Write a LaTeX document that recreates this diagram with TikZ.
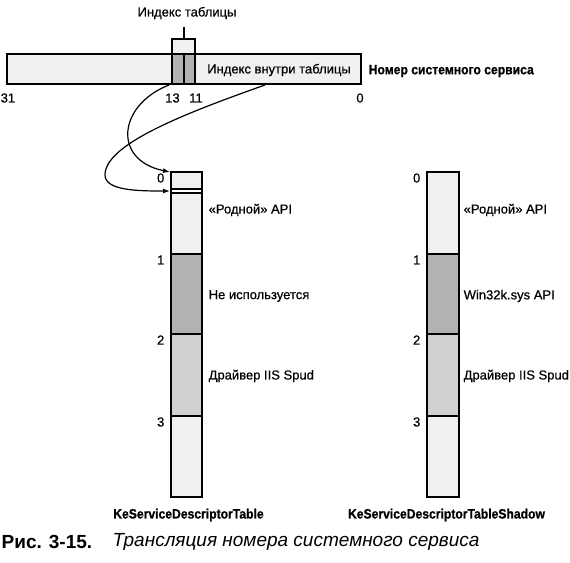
\documentclass[tikz,border=0pt]{standalone}
\usepackage{fontspec}
\setmainfont{Liberation Sans}
\newfontfamily\lblfont{Liberation Sans}[FakeBold=0.6]
\newfontfamily\titlefont{Liberation Sans}[FakeStretch=0.9,FakeBold=0.8]
\usetikzlibrary{calc,arrows.meta}

\tikzset{
  lbl/.style={font=\lblfont\fontsize{13}{15}\selectfont,inner sep=0pt},
  ttl/.style={font=\titlefont\fontsize{13.5}{15}\selectfont\bfseries,inner sep=0pt},
  pale/.style={fill=gray!12},
  mid/.style={fill=gray!36},
  dark/.style={fill=gray!60},
}

\begin{document}
\begin{tikzpicture}[>=Latex,x=1pt,y=-1pt,line width=1.4pt]
  \useasboundingbox (0,0) rectangle (570,562);
  % service number: bits 31..0
  \filldraw[pale] (7,54) rectangle (361,84);
  \filldraw[pale] (172,39) rectangle (195,54);
  \filldraw[dark] (172,54) rectangle (184,84);
  \filldraw[dark] (184,54) rectangle (195,84);
  \coordinate (tbltop) at (184,39);
  \node[lbl] (tblidx) at (187,13) {Индекс таблицы};
  \draw (tbltop) -- ++(0,-12);
  \node[lbl] (inidx) at (279,70) {Индекс внутри таблицы};
  \node[ttl,anchor=west] (svcnum) at (368,71) {Номер системного сервиса};
  \node[lbl,anchor=west] (b31) at (0,98) {31};
  \node[lbl] (b13) at (172.5,98) {13};
  \node[lbl] (b11) at (196,98) {11};
  \node[lbl] (b0) at (360,98) {0};
  \coordinate (from13) at (169,85);
  \coordinate (fromin) at (265,85);
  % KeServiceDescriptorTable
  \filldraw[pale] (171,172) rectangle (202,254);
  \filldraw[dark] (171,254) rectangle (202,334);
  \filldraw[mid]  (171,334) rectangle (202,416);
  \filldraw[pale] (171,416) rectangle (202,497);
  \filldraw[fill=white] (171,189) rectangle (202,193);
  \coordinate (kst0) at (170,172);
  \coordinate (kstent) at (170,191);
  \foreach \n/\y in {0/178,1/260,2/340,3/422}
    \node[lbl,anchor=east] (kstn\n) at (165,\y) {\n};
  \node[lbl,anchor=west] (kstnat) at (208,210) {«Родной» API};
  \node[lbl,anchor=west] (kstfree) at (208,296) {Не используется};
  \node[lbl,anchor=west] (kstiis) at (208,376) {Драйвер IIS Spud};
  \node[ttl] (kstname) at (188.5,515) {KeServiceDescriptorTable};
  % KeServiceDescriptorTableShadow
  \filldraw[pale] (427,172) rectangle (459,254);
  \filldraw[dark] (427,254) rectangle (459,334);
  \filldraw[mid]  (427,334) rectangle (459,416);
  \filldraw[pale] (427,416) rectangle (459,497);
  \foreach \n/\y in {0/178,1/260,2/340,3/422}
    \node[lbl,anchor=east] (shdn\n) at (421,\y) {\n};
  \node[lbl,anchor=west] (shdnat) at (463,210) {«Родной» API};
  \node[lbl,anchor=west] (shdwin) at (463,296) {Win32k.sys API};
  \node[lbl,anchor=west] (shdiis) at (463,376) {Драйвер IIS Spud};
  \node[ttl] (shdname) at (446.5,515) {KeServiceDescriptorTableShadow};
  % index arrows
  \draw[-{Latex[length=7pt,width=5pt]},line width=1.2pt] (from13)
    .. controls (118,105) and (112,160) .. (kst0);
  \draw[-{Latex[length=7pt,width=5pt]},line width=1.2pt] (fromin)
    .. controls (180,115) and (105,145) .. (105,175)
    .. controls (105,191) and (140,191) .. (kstent);
  % caption
  \node[anchor=west,inner sep=0pt,font=\fontsize{19}{21}\selectfont\bfseries] (fignum) at (1,542) {Рис. 3-15.};
  \node[anchor=west,inner sep=0pt,font=\fontsize{19}{21}\selectfont\itshape] (figcap) at (112,542) {Трансляция номера системного сервиса};
\end{tikzpicture}
\end{document}
